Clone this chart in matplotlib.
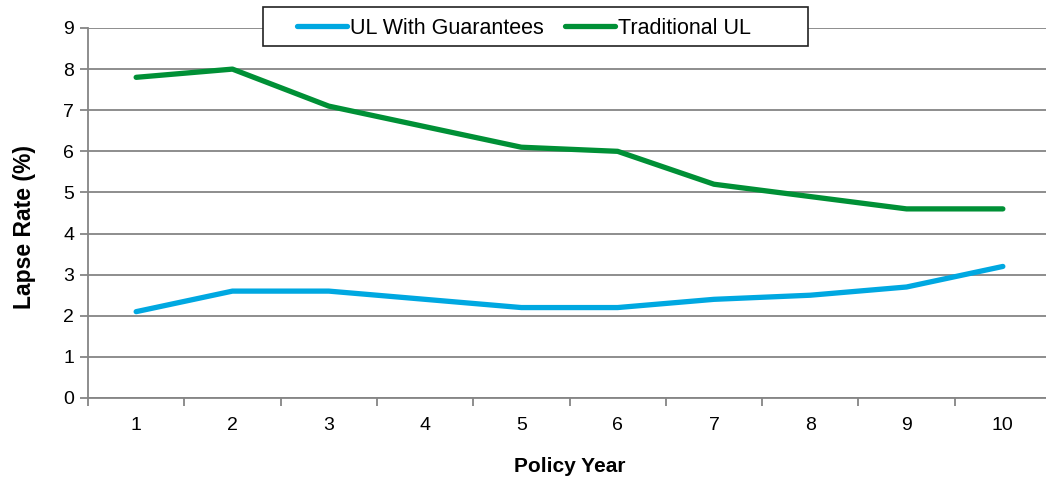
import matplotlib.pyplot as plt
from matplotlib.patches import Rectangle
from matplotlib.ticker import FixedLocator, NullFormatter

plt.rcParams['font.family'] = ['Liberation Sans', 'DejaVu Sans']

# data
years = [1, 2, 3, 4, 5, 6, 7, 8, 9, 10]
ul_guar = [2.1, 2.6, 2.6, 2.4, 2.2, 2.2, 2.4, 2.5, 2.7, 3.2]
trad_ul = [7.8, 8.0, 7.1, 6.6, 6.1, 6.0, 5.2, 4.9, 4.6, 4.6]

BLUE = '#00A8E1'
GREEN = '#009036'
GRID = '#858585'
W, H = 1046, 483

fig = plt.figure(figsize=(W / 100, H / 100), dpi=100)
ax = fig.add_axes([88 / W, 1 - 398 / H, 963 / W, 370 / H])

ax.plot(years, ul_guar, color=BLUE, lw=3.8, solid_capstyle='round', label='UL With Guarantees')
ax.plot(years, trad_ul, color=GREEN, lw=3.8, solid_capstyle='round', label='Traditional UL')

ax.set_xlim(0.5, 10.5)
ax.set_ylim(0, 9)
ax.set_yticks(range(0, 10))
ax.yaxis.grid(True, color=GRID, lw=1.3)
ax.set_axisbelow(True)

# category labels centred, tick marks between categories
ax.set_xticks(years)
ax.set_xticklabels([str(y) for y in years])
ax.tick_params(axis='x', which='major', length=0, pad=14, labelsize=14)
ax.xaxis.set_minor_locator(FixedLocator([y - 0.5 for y in years] + [10.5]))
ax.xaxis.set_minor_formatter(NullFormatter())
ax.tick_params(axis='x', which='minor', length=6, width=1.3, color=GRID, direction='out')
ax.tick_params(axis='y', length=6, width=1.3, color=GRID, labelsize=14, pad=4)

for s in ['top', 'right']:
    ax.spines[s].set_visible(False)
for s in ['left', 'bottom']:
    ax.spines[s].set_color(GRID)
    ax.spines[s].set_linewidth(1.3)

ax.set_ylabel('Lapse Rate (%)', fontsize=16.5, fontweight='bold', va='center')
ax.yaxis.set_label_coords(-63 / 963, (398 - 227) / 370)
ax.set_xlabel('Policy Year', fontsize=15, fontweight='bold', va='center')
ax.xaxis.set_label_coords(0.5, (398 - 466) / 370)

# legend entries without frame, box drawn separately (Excel style padding)
leg = fig.legend(loc='center left', bbox_to_anchor=(297 / W, 1 - 28 / H), ncol=2,
                 fontsize=15.5, frameon=False, handlelength=2.3,
                 handletextpad=0.15, columnspacing=1.0, borderpad=0, borderaxespad=0)
fig.patches.append(Rectangle((263 / W, 1 - 46 / H), 545 / W, 39 / H,
                             transform=fig.transFigure, facecolor='white',
                             edgecolor='#222222', lw=1.2, zorder=2))
leg.set_zorder(3)

fig.savefig('out.png', dpi=100)
